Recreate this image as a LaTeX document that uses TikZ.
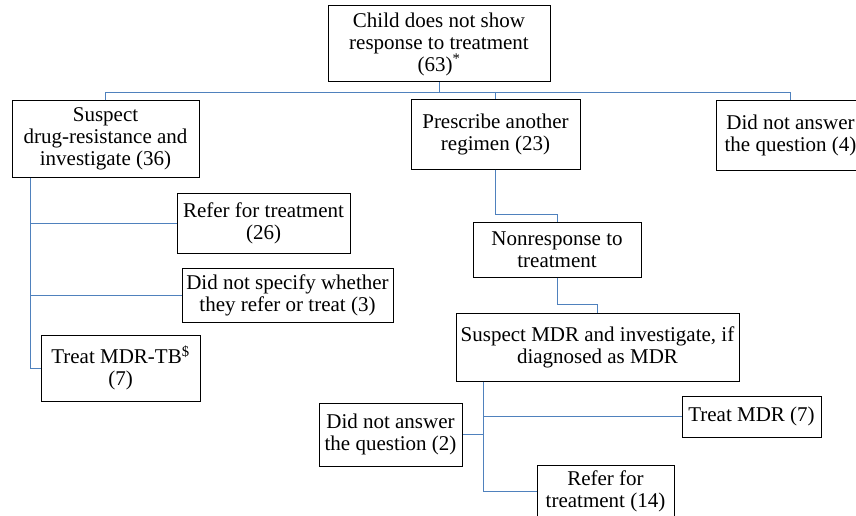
\documentclass[tikz,border=0pt]{standalone}
\usepackage{fontspec}
\setmainfont{Liberation Serif}
\definecolor{linkblue}{RGB}{79,129,189}
\tikzset{
	box/.style={draw, line width=1pt, align=center, inner sep=2pt, font=\fontsize{21}{22}\selectfont},
	link/.style={draw=linkblue, line width=0.9pt},
}

\begin{document}
\begin{tikzpicture}[x=1pt, y=-1pt]
			\useasboundingbox (0,0) rectangle (856,516);
			\node [box, minimum width=222pt, minimum height=76pt] (child) at (439,44) {Child does not show\\response to treatment\\(63)\textsuperscript{*}};
			\node [box, minimum width=187pt, minimum height=76pt] (susp) at (105.5,139) {Suspect\\drug-resistance and\\investigate (36)};
			\node [box, minimum width=169pt, minimum height=69pt] (presc) at (495.5,134.5) {Prescribe another\\regimen (23)};
			\node [box, minimum width=149pt, minimum height=69pt] (dna4) at (790.5,135.5) {Did not answer\\the question (4)};
			\node [box, minimum width=173pt, minimum height=60pt] (ref26) at (263.5,223) {Refer for treatment\\(26)};
			\node [box, minimum width=211pt, minimum height=54pt] (nospec) at (287.5,295) {Did not specify whether\\they refer or treat (3)};
			\node [box, minimum width=159pt, minimum height=66pt] (tmdrtb) at (120.5,368) {Treat MDR-TB\textsuperscript{\$}\\(7)};
			\node [box, minimum width=168pt, minimum height=55pt] (nonresp) at (557,249.5) {Nonresponse to\\treatment};
			\node [box, minimum width=283pt, minimum height=68pt] (smdr) at (597.5,347) {Suspect MDR and investigate, if\\diagnosed as MDR};
			\node [box, minimum width=139pt, minimum height=41pt] (tmdr) at (751.5,416.5) {Treat MDR (7)};
			\node [box, minimum width=143pt, minimum height=63pt] (dna2) at (390.5,434.5) {Did not answer\\the question (2)};
			\node [box, minimum width=137pt, minimum height=52pt] (ref14) at (605.5,491) {Refer for\\treatment (14)};
			\coordinate (bus) at (0,92);
			\draw [link] (child.south) -- (child.south |- bus);
			\draw [link] (susp.north) -- (susp.north |- bus) -- (dna4.north |- bus) -- (dna4.north);
			\draw [link] (presc.north |- bus) -- (presc.north);
			\draw [link] (presc.south) -- ++(0,45) -| (nonresp.north);
			\draw [link] (nonresp.south) -- ++(0,27) -| (smdr.north);
			\path (susp.south west) ++(19,0) coordinate (trunkA);
			\draw [link] (trunkA) -- (trunkA |- tmdrtb.west) -- (tmdrtb.west);
			\draw [link] (trunkA |- ref26.west) -- (ref26.west);
			\draw [link] (trunkA |- nospec.west) -- (nospec.west);
			\path (smdr.south west) ++(28,0) coordinate (trunkB);
			\draw [link] (trunkB) -- (trunkB |- ref14.west) -- (ref14.west);
			\draw [link] (trunkB |- tmdr.west) -- (tmdr.west);
			\draw [link] (trunkB |- dna2.east) -- (dna2.east);
	\end{tikzpicture}
\end{document}
